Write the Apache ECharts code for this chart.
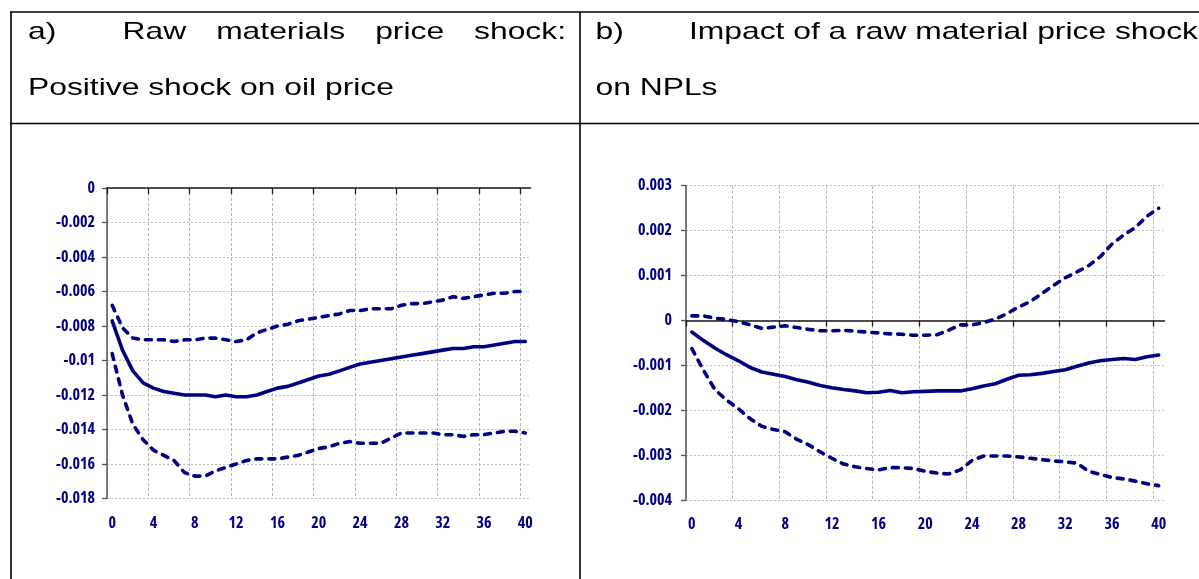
<!DOCTYPE html>
<html>
<head>
<meta charset="utf-8">
<script src="https://cdn.jsdelivr.net/npm/echarts@6/dist/echarts.min.js"></script>
<style>
  html, body { margin: 0; padding: 0; background: #ffffff; }
  #chart { width: 1199px; height: 579px; }
</style>
</head>
<body>
<div id="chart"></div>
<script>
// Quarters after the shock
const periods = ['0','1','2','3','4','5','6','7','8','9','10','11','12','13','14','15','16','17','18','19','20',
  '21','22','23','24','25','26','27','28','29','30','31','32','33','34','35','36','37','38','39','40'];

// Panel a: response to a positive oil price shock (median and bands)
const oilMedian = [-0.0077,-0.0094,-0.0106,-0.0113,-0.0116,-0.0118,-0.0119,-0.0120,-0.0120,-0.0120,-0.0121,
  -0.0120,-0.0121,-0.0121,-0.0120,-0.0118,-0.0116,-0.0115,-0.0113,-0.0111,-0.0109,-0.0108,-0.0106,-0.0104,
  -0.0102,-0.0101,-0.0100,-0.0099,-0.0098,-0.0097,-0.0096,-0.0095,-0.0094,-0.0093,-0.0093,-0.0092,-0.0092,
  -0.0091,-0.0090,-0.0089,-0.0089];
const oilUpper = [-0.0068,-0.0081,-0.0087,-0.0088,-0.0088,-0.0088,-0.0089,-0.0088,-0.0088,-0.0087,-0.0087,
  -0.0088,-0.0089,-0.0088,-0.0084,-0.0082,-0.0080,-0.0079,-0.0077,-0.0076,-0.0075,-0.0074,-0.0073,-0.0071,
  -0.0071,-0.0070,-0.0070,-0.0070,-0.0068,-0.0067,-0.0067,-0.0066,-0.0065,-0.0063,-0.0064,-0.0063,-0.0062,
  -0.0061,-0.0061,-0.0060,-0.0060];
const oilLower = [-0.0096,-0.0120,-0.0137,-0.0146,-0.0152,-0.0155,-0.0158,-0.0165,-0.0167,-0.0167,-0.0164,
  -0.0162,-0.0160,-0.0158,-0.0157,-0.0157,-0.0157,-0.0156,-0.0155,-0.0153,-0.0151,-0.0150,-0.0148,-0.0147,
  -0.0148,-0.0148,-0.0148,-0.0145,-0.0142,-0.0142,-0.0142,-0.0142,-0.0143,-0.0143,-0.0144,-0.0143,-0.0143,
  -0.0142,-0.0141,-0.0141,-0.0142];

// Panel b: response of NPLs to the raw material price shock
const nplMedian = [-0.00026,-0.00045,-0.00062,-0.00077,-0.00090,-0.00105,-0.00115,-0.00120,-0.00125,-0.00132,
  -0.00138,-0.00145,-0.00150,-0.00154,-0.00157,-0.00161,-0.00160,-0.00156,-0.00161,-0.00159,-0.00158,-0.00157,
  -0.00157,-0.00157,-0.00152,-0.00146,-0.00141,-0.00131,-0.00122,-0.00121,-0.00118,-0.00114,-0.00110,-0.00102,
  -0.00095,-0.00090,-0.00087,-0.00085,-0.00087,-0.00081,-0.00077];
const nplUpper = [0.00010,0.00010,0.00005,0.00002,-0.00003,-0.00010,-0.00018,-0.00015,-0.00012,-0.00016,
  -0.00020,-0.00023,-0.00023,-0.00022,-0.00024,-0.00026,-0.00028,-0.00030,-0.00031,-0.00033,-0.00033,-0.00032,
  -0.00022,-0.00010,-0.00010,-0.00005,0.00003,0.00015,0.00030,0.00042,0.00060,0.00078,0.00095,0.00108,
  0.00122,0.00142,0.00170,0.00190,0.00207,0.00232,0.00250];
const nplLower = [-0.00063,-0.00111,-0.00155,-0.00178,-0.00197,-0.00219,-0.00236,-0.00243,-0.00248,-0.00265,
  -0.00277,-0.00293,-0.00307,-0.00320,-0.00326,-0.00330,-0.00333,-0.00328,-0.00328,-0.00330,-0.00336,-0.00340,
  -0.00342,-0.00333,-0.00312,-0.00302,-0.00302,-0.00302,-0.00304,-0.00307,-0.00310,-0.00313,-0.00315,-0.00318,
  -0.00336,-0.00343,-0.00350,-0.00353,-0.00358,-0.00364,-0.00368];

// Value axis ranges [min, max, step]
const oilAxis = [-0.018, 0, 0.002];
const nplAxis = [-0.004, 0.003, 0.001];

// Cell headings
const headA1 = ['Raw', 'materials', 'price', 'shock:'];
const headA2 = 'Positive shock on oil price';
const headB1 = 'Impact of a raw material price shock';
const headB2 = 'on NPLs';

const NAVY = '#000080';
const headFont = '24px "Liberation Sans", Arial, sans-serif';
const STRETCH = 1.325;

// Pick a narrow bold face for the axis numbers from what is installed
const probe = document.createElement('canvas').getContext('2d');
function probeWidth(font) { probe.font = font; return probe.measureText('-0.002 0123456789').width; }
function installed(family) {
  return probeWidth('bold 14px "' + family + '", monospace') !== probeWidth('bold 14px monospace') ||
         probeWidth('bold 14px "' + family + '", serif') !== probeWidth('bold 14px serif');
}
function stretches(family) {
  return installed(family) &&
    probeWidth('bold condensed 14px "' + family + '"') < probeWidth('bold 14px "' + family + '"') - 2;
}
function pickAxisFont() {
  if (installed('Liberation Sans Narrow')) return { fontFamily: '"Liberation Sans Narrow"', fontWeight: 'bold', fontSize: 16.5 };
  if (stretches('Open Sans')) return { fontFamily: '"Open Sans"', fontWeight: 'bold condensed', fontSize: 16 };
  if (installed('DejaVu Sans Condensed')) return { fontFamily: '"DejaVu Sans Condensed"', fontWeight: 'bold', fontSize: 14 };
  if (stretches('DejaVu Sans')) return { fontFamily: '"DejaVu Sans"', fontWeight: 'bold condensed', fontSize: 14 };
  return { fontFamily: '"Liberation Sans", Arial, sans-serif', fontWeight: 'bold', fontSize: 14 };
}
const axisFont = Object.assign({ color: NAVY }, pickAxisFont());

// tick-mark boundaries between quarters (one more than the number of quarters)
const boundaries = periods.concat([String(periods.length)]);

function panelAxes(gridIndex, range, labelMargin, yMargin) {
  const xLabels = {
    type: 'category', gridIndex, position: 'bottom', data: periods, boundaryGap: true,
    axisLine: { show: false, onZero: false }, axisTick: { show: false },
    axisLabel: Object.assign({ interval: 3, margin: labelMargin, showMaxLabel: true }, axisFont),
    splitLine: { show: false }
  };
  const xZero = {
    type: 'category', gridIndex, position: 'bottom', data: boundaries, boundaryGap: false,
    axisLine: { show: true, onZero: true, lineStyle: { color: '#1a1a1a', width: 1.5 } },
    axisTick: { show: true, interval: 3, length: 6, lineStyle: { color: '#1a1a1a', width: 1.3 } },
    axisLabel: { show: false },
    splitLine: { show: true, interval: 3, lineStyle: { color: '#b4b4b4', width: 1, type: [3, 2] } }
  };
  const y = {
    type: 'value', gridIndex, min: range[0], max: range[1], interval: range[2], position: 'left',
    axisLine: { show: true, onZero: false, lineStyle: { color: '#555555', width: 1.5 } },
    axisTick: { show: true, length: 5, inside: false, lineStyle: { color: '#555555', width: 1.3 } },
    axisLabel: Object.assign({ margin: yMargin }, axisFont),
    splitLine: { show: true, lineStyle: { color: '#bdbdbd', width: 1, type: [2, 2] } }
  };
  return { x: [xLabels, xZero], y };
}

const a = panelAxes(0, oilAxis, 17, 12);
const b = panelAxes(1, nplAxis, 16, 14);

function band(name, data, xIdx, yIdx, dashed) {
  return {
    name, type: 'line', data, xAxisIndex: xIdx, yAxisIndex: yIdx,
    symbol: 'none', smooth: false, silent: true, z: 5,
    lineStyle: dashed ? { color: NAVY, width: 3.6, type: [6, 7], cap: 'round' }
                      : { color: NAVY, width: 3.6, cap: 'round', join: 'round' }
  };
}

// heading text: Arial-metric font, stretched horizontally
function textWidth(s) { probe.font = headFont; return probe.measureText(s).width * STRETCH; }
function headText(text, x, y) {
  return { type: 'text', x, y, scaleX: STRETCH, scaleY: 1, silent: true,
    style: { text, font: headFont, fill: '#000000', align: 'left', verticalAlign: 'middle' } };
}
// first line of panel a is justified between the tab stop and the cell edge
function justified(words, x0, x1, y) {
  const widths = words.map(textWidth);
  const total = widths.reduce((s, w) => s + w, 0);
  const gap = (x1 - x0 - total) / (words.length - 1);
  let x = x0;
  return words.map((w, i) => { const el = headText(w, x, y); x += widths[i] + gap; return el; });
}

function rule(x1, y1, x2, y2) {
  return { type: 'line', silent: true, shape: { x1, y1, x2, y2 },
    style: { stroke: '#000000', lineWidth: 1.6 } };
}

const graphics = [
  rule(10, 12, 1199, 12),
  rule(11, 12, 11, 579),
  rule(580, 12, 580, 579),
  rule(10, 123.5, 1199, 123.5),
  headText('a)', 28, 32.4),
  ...justified(headA1, 122.5, 566, 32.4),
  headText(headA2, 28, 88.4),
  headText('b)', 595.5, 32.4),
  headText(headB1, 689, 32.4),
  headText(headB2, 595.5, 88.4)
];

const chart = echarts.init(document.getElementById('chart'), null, { renderer: 'canvas' });
chart.setOption({
  animation: false,
  backgroundColor: '#ffffff',
  grid: [
    { left: 107, top: 188, width: 423.5, height: 310.5, containLabel: false, outerBoundsMode: 'none' },
    { left: 686, top: 185.7, width: 478.5, height: 314.3, containLabel: false, outerBoundsMode: 'none' }
  ],
  xAxis: [a.x[0], a.x[1], b.x[0], b.x[1]],
  yAxis: [a.y, b.y],
  series: [
    band('oil upper', oilUpper, 0, 0, true),
    band('oil lower', oilLower, 0, 0, true),
    band('oil median', oilMedian, 0, 0, false),
    band('npl upper', nplUpper, 2, 1, true),
    band('npl lower', nplLower, 2, 1, true),
    band('npl median', nplMedian, 2, 1, false)
  ],
  graphic: graphics
});
</script>
</body>
</html>
